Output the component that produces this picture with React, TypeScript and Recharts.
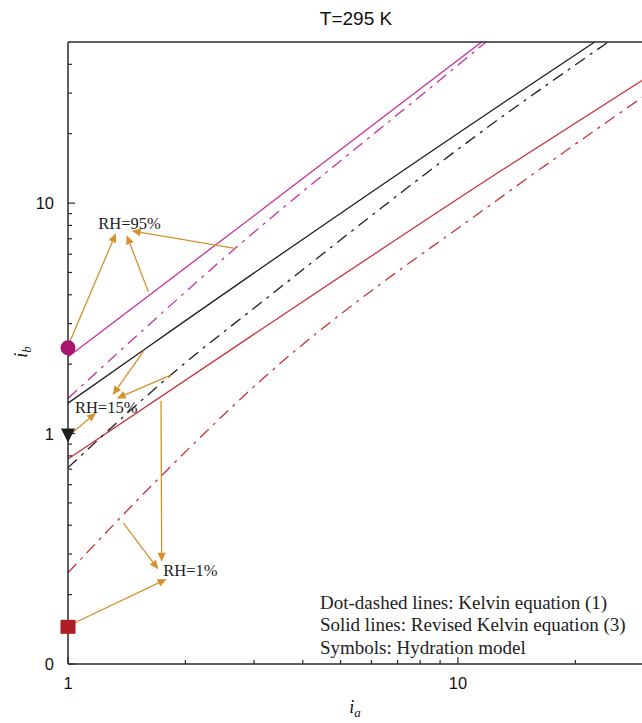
import React from 'react';
import {
  ComposedChart,
  Line,
  Scatter,
  XAxis,
  YAxis,
  ReferenceLine,
  ReferenceDot,
} from 'recharts';

// ---- series (i_a, i_b) ----
const pinkSolid = [
  { x: 1, y: 2.15 },
  { x: 3.36, y: 10.2 },
  { x: 11.5, y: 50 },
];
const pinkDashed = [
  { x: 1, y: 1.42 },
  { x: 2.68, y: 6.35 },
  { x: 8.99, y: 34.2 },
  { x: 11.8, y: 50 },
];
const blackSolid = [
  { x: 1, y: 1.355 },
  { x: 1.56, y: 2.3 },
  { x: 12.8, y: 26.6 },
  { x: 22.4, y: 50 },
];
const blackDashed = [
  { x: 1, y: 0.711 },
  { x: 1.834, y: 1.794 },
  { x: 3.36, y: 4.07 },
  { x: 12.8, y: 23.3 },
  { x: 24.3, y: 50 },
];
const redSolid = [
  { x: 1, y: 0.776 },
  { x: 3.05, y: 2.75 },
  { x: 12.8, y: 13.7 },
  { x: 30, y: 34.5 },
];
const redDashed = [
  { x: 1, y: 0.249 },
  { x: 1.72, y: 0.646 },
  { x: 3.05, y: 1.64 },
  { x: 13.1, y: 10.8 },
  { x: 30, y: 29.1 },
];

// hydration model symbols
const circlePoint = [{ x: 1, y: 2.356 }];
const trianglePoint = [{ x: 1, y: 0.99 }];
const squarePoint = [{ x: 1, y: 0.145 }];

// annotation labels and arrows (data coordinates)
const rhLabels = [
  { text: 'RH=95%', x: 1.196, y: 8.17 },
  { text: 'RH=15%', x: 1.042, y: 1.3 },
  { text: 'RH=1%', x: 1.755, y: 0.2557 },
];
const rhArrows = [
  [{ x: 1, y: 2.4 }, { x: 1.327, y: 7.39 }],
  [{ x: 1.607, y: 4.12 }, { x: 1.414, y: 7.26 }],
  [{ x: 2.68, y: 6.36 }, { x: 1.457, y: 7.58 }],
  [{ x: 1.022, y: 1.002 }, { x: 1.18, y: 1.231 }],
  [{ x: 1.566, y: 2.287 }, { x: 1.302, y: 1.469 }],
  [{ x: 1.834, y: 1.794 }, { x: 1.333, y: 1.421 }],
  [{ x: 1.732, y: 1.388 }, { x: 1.739, y: 0.278 }],
  [{ x: 1.386, y: 0.41 }, { x: 1.704, y: 0.2575 }],
  [{ x: 1, y: 0.1462 }, { x: 1.791, y: 0.2338 }],
];

// axes
const xTicks = [1, 2, 3, 4, 5, 6, 7, 8, 9, 10, 20];
const xMajor = [1, 10];
const yTicks = [
  0.1, 0.2, 0.3, 0.4, 0.5, 0.6, 0.7, 0.8, 0.9,
  1, 2, 3, 4, 5, 6, 7, 8, 9,
  10, 20, 30, 40,
];
const yMajor = [0.1, 1, 10];
const yTickLabels: Record<string, string> = { '0.1': '0', '1': '1', '10': '10' };
const xTickLabels: Record<string, string> = { '1': '1', '10': '10' };

const legendLines = [
  'Dot-dashed lines: Kelvin equation (1)',
  'Solid lines: Revised Kelvin equation (3)',
  'Symbols: Hydration model',
];

const PINK = '#c5309a';
const PINK_MARK = '#a8146e';
const BLACK = '#1e1e1e';
const RED = '#c8343a';
const RED_MARK = '#b01e23';
const ORANGE = '#d4912c';
const AXIS = '#2a2a2a';
const DASH = '12 6 3 6';
const SANS = 'Liberation Sans, Arial, Helvetica, sans-serif';
const SERIF = 'Liberation Serif, Times New Roman, serif';

const MAJOR_LEN = 7;
const MINOR_LEN = 4;

const BottomTick = (p: any) => {
  const v = p.payload.value;
  const major = xMajor.includes(v);
  const label = xTickLabels[String(v)];
  return (
    <g>
      <line x1={p.x} x2={p.x} y1={p.y} y2={p.y - (major ? MAJOR_LEN : MINOR_LEN)} stroke={AXIS} strokeWidth={1.2} />
      {label && (
        <text x={p.x} y={p.y + 25} textAnchor="middle" fontFamily={SANS} fontSize={16.5} fill="#111">
          {label}
        </text>
      )}
    </g>
  );
};

const TopTick = (p: any) => {
  const major = xMajor.includes(p.payload.value);
  return (
    <line x1={p.x} x2={p.x} y1={p.y} y2={p.y + (major ? MAJOR_LEN : MINOR_LEN)} stroke={AXIS} strokeWidth={1.2} />
  );
};

const LeftTick = (p: any) => {
  const v = p.payload.value;
  const major = yMajor.includes(v);
  const label = yTickLabels[String(v)];
  return (
    <g>
      <line x1={p.x} x2={p.x + (major ? MAJOR_LEN : MINOR_LEN)} y1={p.y} y2={p.y} stroke={AXIS} strokeWidth={1.2} />
      {label && (
        <text x={p.x - 14} y={p.y + 6} textAnchor="end" fontFamily={SANS} fontSize={16.5} fill="#111">
          {label}
        </text>
      )}
    </g>
  );
};

const RightTick = (p: any) => {
  const major = yMajor.includes(p.payload.value);
  return (
    <line x1={p.x} x2={p.x - (major ? MAJOR_LEN : MINOR_LEN)} y1={p.y} y2={p.y} stroke={AXIS} strokeWidth={1.2} />
  );
};

const Arrow = (p: any) => {
  const { x1, y1, x2, y2 } = p;
  if ([x1, y1, x2, y2].some((n) => typeof n !== 'number' || isNaN(n))) return null;
  const dx = x2 - x1;
  const dy = y2 - y1;
  const len = Math.hypot(dx, dy) || 1;
  const ux = dx / len;
  const uy = dy / len;
  const hl = 9;
  const hw = 4;
  const bx = x2 - ux * hl;
  const by = y2 - uy * hl;
  const pts = `${x2},${y2} ${bx - uy * hw},${by + ux * hw} ${bx + uy * hw},${by - ux * hw}`;
  return (
    <g>
      <line x1={x1} y1={y1} x2={bx} y2={by} stroke={ORANGE} strokeWidth={1.3} />
      <polygon points={pts} fill={ORANGE} />
    </g>
  );
};

const CircleMark = (p: any) => <circle cx={p.cx} cy={p.cy} r={7.5} fill={PINK_MARK} />;
const TriangleMark = (p: any) => (
  <polygon
    points={`${p.cx - 7},${p.cy - 6} ${p.cx + 7},${p.cy - 6} ${p.cx},${p.cy + 8}`}
    fill={BLACK}
  />
);
const SquareMark = (p: any) => (
  <rect x={p.cx - 7.5} y={p.cy - 7} width={15} height={14} fill={RED_MARK} />
);

const LabelText = (text: string) => (p: any) => (
  <text x={p.cx} y={p.cy} dominantBaseline="central" fontFamily={SERIF} fontSize={16.5} fill="#222">
    {text}
  </text>
);

export default function App() {
  const lineProps = {
    xAxisId: 'x',
    yAxisId: 'y',
    dataKey: 'y',
    dot: false,
    activeDot: false,
    isAnimationActive: false,
    strokeWidth: 1.3,
    type: 'monotone' as const,
  };
  return (
    <div style={{ position: 'absolute', left: 0, top: 0, width: 642, height: 723, overflow: 'hidden', background: '#fff' }}>
      <ComposedChart width={660} height={723} margin={{ top: 41, right: 15, bottom: 58, left: 67 }}>
        <XAxis
          xAxisId="x"
          type="number"
          dataKey="x"
          scale="log"
          domain={[1, 30]}
          ticks={xTicks}
          interval={0}
          height={1}
          tickSize={0}
          tickMargin={0}
          tickLine={false}
          axisLine={{ stroke: AXIS, strokeWidth: 1.5 }}
          tick={BottomTick}
        />
        <XAxis
          xAxisId="top"
          orientation="top"
          type="number"
          dataKey="x"
          scale="log"
          domain={[1, 30]}
          ticks={xTicks}
          interval={0}
          height={1}
          tickSize={0}
          tickMargin={0}
          tickLine={false}
          axisLine={{ stroke: AXIS, strokeWidth: 1.5 }}
          tick={TopTick}
        />
        <YAxis
          yAxisId="y"
          type="number"
          dataKey="y"
          scale="log"
          domain={[0.1, 50]}
          ticks={yTicks}
          interval={0}
          width={1}
          tickSize={0}
          tickMargin={0}
          tickLine={false}
          axisLine={{ stroke: AXIS, strokeWidth: 1.5 }}
          tick={LeftTick}
        />
        <YAxis
          yAxisId="right"
          orientation="right"
          type="number"
          dataKey="y"
          scale="log"
          domain={[0.1, 50]}
          ticks={yTicks}
          interval={0}
          width={1}
          tickSize={0}
          tickMargin={0}
          tickLine={false}
          axisLine={{ stroke: AXIS, strokeWidth: 1.5 }}
          tick={RightTick}
        />

        <Line {...lineProps} data={redDashed} stroke={RED} strokeDasharray={DASH} />
        <Line {...lineProps} data={redSolid} stroke={RED} />
        <Line {...lineProps} data={blackDashed} stroke={BLACK} strokeDasharray={DASH} />
        <Line {...lineProps} data={blackSolid} stroke={BLACK} />
        <Line {...lineProps} data={pinkDashed} stroke={PINK} strokeDasharray={DASH} />
        <Line {...lineProps} data={pinkSolid} stroke={PINK} />

        {rhArrows.map((seg, i) => (
          <ReferenceLine
            key={`arrow-${i}`}
            xAxisId="x"
            yAxisId="y"
            segment={seg}
            ifOverflow="visible"
            shape={Arrow}
          />
        ))}
        {rhLabels.map((l) => (
          <ReferenceDot
            key={l.text}
            xAxisId="x"
            yAxisId="y"
            x={l.x}
            y={l.y}
            ifOverflow="visible"
            shape={LabelText(l.text)}
          />
        ))}

        <Scatter xAxisId="x" yAxisId="y" dataKey="y" data={circlePoint} shape={CircleMark} isAnimationActive={false} />
        <Scatter xAxisId="x" yAxisId="y" dataKey="y" data={trianglePoint} shape={TriangleMark} isAnimationActive={false} />
        <Scatter xAxisId="x" yAxisId="y" dataKey="y" data={squarePoint} shape={SquareMark} isAnimationActive={false} />
      </ComposedChart>

      <svg width={642} height={723} style={{ position: 'absolute', left: 0, top: 0, pointerEvents: 'none' }}>
        <text x={356} y={25} textAnchor="middle" fontFamily={SANS} fontSize={19} fill="#111">
          T=295 K
        </text>
        <text
          x={0}
          y={0}
          transform="translate(27, 352) rotate(-90)"
          textAnchor="middle"
          fontFamily={SERIF}
          fontSize={18}
          fontStyle="italic"
          fill="#111"
        >
          i<tspan fontSize={13} dy={4}>b</tspan>
        </text>
        <text x={355} y={713} textAnchor="middle" fontFamily={SERIF} fontSize={18} fontStyle="italic" fill="#111">
          i<tspan fontSize={13} dy={4}>a</tspan>
        </text>
        {legendLines.map((t, i) => (
          <text
            key={t}
            x={320}
            y={602 + i * 22.5}
            dominantBaseline="central"
            fontFamily={SERIF}
            fontSize={19}
            fill="#222"
          >
            {t}
          </text>
        ))}
      </svg>
    </div>
  );
}
